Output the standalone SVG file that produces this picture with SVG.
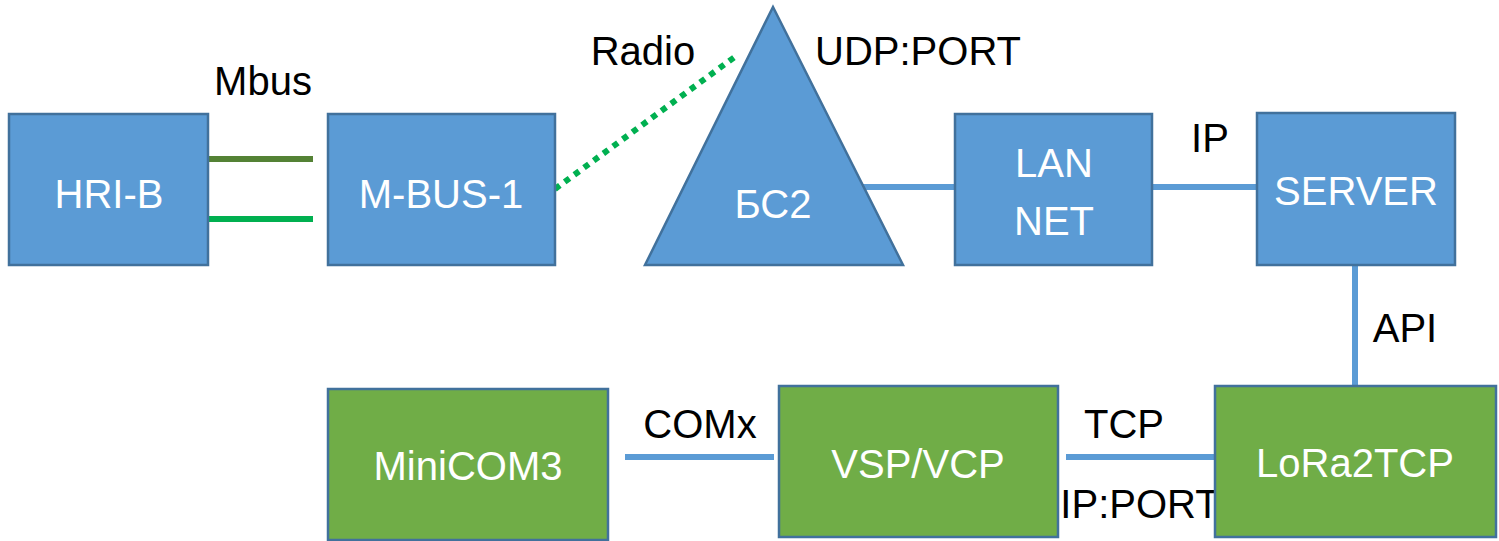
<svg xmlns="http://www.w3.org/2000/svg" width="1499" height="541" viewBox="0 0 1499 541">
<style>
.blue{fill:#5B9BD5;stroke:#41719C;stroke-width:2.5}
.green{fill:#70AD47;stroke:#41719C;stroke-width:2.5}
.nt{font-family:"Liberation Sans",Arial,sans-serif;font-size:40px;fill:#FFFFFF;text-anchor:middle}
.lb{font-family:"Liberation Sans",Arial,sans-serif;font-size:40px;fill:#000000;text-anchor:middle}
.ln{stroke:#5B9BD5;stroke-width:6;fill:none}
</style>
<rect width="1499" height="541" fill="#FFFFFF"/>
<g id="connectors">
<line x1="208" y1="159" x2="313" y2="159" stroke="#548235" stroke-width="6"/>
<line x1="208" y1="219" x2="313" y2="219" stroke="#00B050" stroke-width="6"/>
<line x1="555" y1="189" x2="736" y2="56" stroke="#00B050" stroke-width="6" stroke-dasharray="6 6"/>
<line class="ln" x1="862" y1="187" x2="955" y2="187"/>
<line class="ln" x1="1152" y1="187" x2="1257" y2="187"/>
<line class="ln" x1="1355" y1="265" x2="1355" y2="385"/>
<line class="ln" x1="625" y1="457" x2="774" y2="457"/>
<line class="ln" x1="1066" y1="457" x2="1215" y2="457"/>
<text class="lb" x="263" y="95">Mbus</text>
<text class="lb" x="643" y="65">Radio</text>
<text class="lb" x="918" y="65">UDP:PORT</text>
<text class="lb" x="1210" y="152">IP</text>
<text class="lb" x="1405" y="342">API</text>
<text class="lb" x="700" y="438">COMx</text>
<text class="lb" x="1124" y="438">TCP</text>
<text class="lb" x="1140" y="518">IP:PORT</text>
</g>
<g id="hri-b">
<rect class="blue" x="9" y="114" width="199" height="151"/>
<text class="nt" x="109" y="208">HRI-B</text>
</g>
<g id="m-bus-1">
<rect class="blue" x="328" y="114" width="227" height="151"/>
<text class="nt" x="441" y="208">M-BUS-1</text>
</g>
<g id="bs2">
<polygon class="blue" points="773,7 903,265 645,265"/>
<text class="nt" x="773" y="218">БС2</text>
</g>
<g id="lan-net">
<rect class="blue" x="955" y="114" width="197" height="151"/>
<text class="nt" x="1054" y="177">LAN</text>
<text class="nt" x="1054" y="235">NET</text>
</g>
<g id="server">
<rect class="blue" x="1257" y="113" width="198" height="152"/>
<text class="nt" x="1356" y="205">SERVER</text>
</g>
<g id="minicom3">
<rect class="green" x="328" y="389" width="280" height="151"/>
<text class="nt" x="468" y="480">MiniCOM3</text>
</g>
<g id="vsp-vcp">
<rect class="green" x="779" y="386" width="279" height="151"/>
<text class="nt" x="918" y="478">VSP/VCP</text>
</g>
<g id="lora2tcp">
<rect class="green" x="1215" y="386" width="281" height="151"/>
<text class="nt" x="1355" y="477">LoRa2TCP</text>
</g>
</svg>
